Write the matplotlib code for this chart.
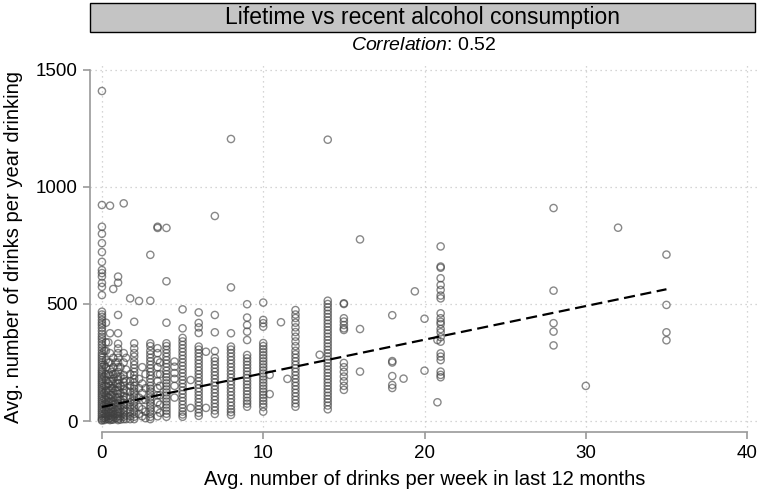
import numpy as np
import matplotlib.pyplot as plt
from matplotlib.patches import Rectangle

plt.rcParams['font.family'] = ['Liberation Sans', 'DejaVu Sans']
plt.rcParams['mathtext.fontset'] = 'custom'
plt.rcParams['mathtext.rm'] = 'Liberation Sans'
plt.rcParams['mathtext.it'] = 'Liberation Sans:italic'

y_w0 = [1410, 923, 830, 800, 760, 722, 680, 645, 632, 617, 590, 573, 538, 467, 455,
        445, 432, 420, 410, 398, 385, 372, 360, 350, 338, 326, 314, 302, 290, 280,
        270, 260, 250, 240, 230, 220, 212, 204, 196, 188, 180, 172, 164, 156, 148,
        140, 132, 124, 116, 108, 100, 92, 84, 76, 68, 60, 52, 44, 36, 28, 20, 12, 6, 2]
y_w015 = [300, 240, 190, 150, 120, 95, 70, 50, 30, 14, 4]
y_w025 = [420, 336, 300, 260, 230, 200, 175, 150, 130, 110, 90, 75, 60, 45, 30, 18, 8]
y_w04 = [336, 250, 200, 160, 130, 100, 80, 60, 40, 22, 8]
y_w05 = [920, 375, 290, 250, 220, 195, 170, 150, 130, 112, 96, 80, 64, 50, 36, 24, 12, 4]
y_w06 = [210, 170, 140, 110, 85, 60, 40, 20, 6]
y_w07 = [564, 270, 230, 200, 180, 160, 140, 120, 100, 85, 70, 55, 40, 28, 16, 6]
y_w085 = [250, 200, 160, 130, 100, 75, 50, 30, 12]
y_w1 = [617, 591, 453, 375, 330, 310, 290, 270, 250, 230, 210, 190, 175, 160, 145,
        130, 115, 100, 88, 76, 64, 52, 40, 30, 20, 10, 4]
y_w115 = [230, 190, 150, 120, 90, 65, 40, 20, 6]
y_w135 = [930, 290, 250, 197, 180, 165, 150, 135, 120, 105, 90, 78, 66, 54, 42, 30, 18, 8]
y_w15 = [270, 220, 170, 130, 100, 70, 45, 24, 8]
y_w175 = [524, 200, 170, 150, 125, 100, 80, 60, 40, 20, 8]
y_w2 = [424, 332, 310, 290, 275, 255, 240, 225, 210, 195, 180, 165, 150, 138, 126,
        114, 102, 90, 78, 66, 54, 42, 30, 18, 8]
y_w23 = [513, 180, 140, 100, 60, 30]
y_w25 = [230, 160, 120, 90, 50, 20]
y_w27 = [200, 140, 90, 40, 12]
y_w3 = [710, 514, 332, 320, 300, 285, 270, 255, 240, 225, 210, 195, 180, 165, 150,
        138, 126, 114, 102, 90, 78, 66, 54, 42, 30, 18, 8]
y_w345 = [830, 825, 311, 290, 260, 230, 200, 170, 140, 110, 80, 50, 20]
y_w36 = [250, 200, 150, 110, 70, 35]
y_w4 = [825, 597, 420, 332, 320, 305, 290, 275, 260, 245, 230, 215, 200, 187, 174,
        161, 148, 135, 122, 109, 96, 83, 70, 57, 44, 31, 18]
y_w45 = [254, 232, 205, 180, 150, 100]
y_w5 = [477, 396, 355, 340, 325, 310, 295, 280, 265, 250, 235, 220, 205, 190, 175,
        160, 145, 130, 115, 100, 85, 70, 55, 40, 28, 18]
y_w55 = [175, 56]
y_w6 = [464, 419, 400, 376, 318, 305, 290, 275, 260, 245, 230, 215, 200, 185, 170,
        155, 140, 125, 110, 95, 80, 65, 50, 35, 22]
y_w645 = [296, 56]
y_w7 = [876, 453, 379, 299, 269, 255, 240, 225, 210, 195, 180, 165, 150, 135, 120,
        105, 90, 75, 60, 45, 30]
y_w8 = [1205, 571, 375, 318, 305, 290, 275, 260, 245, 230, 215, 200, 185, 170, 155,
        140, 125, 110, 95, 80, 65, 50, 38, 26]
y_w9 = [499, 442, 410, 382, 346, 282, 268, 254, 240, 226, 212, 198, 184, 170, 156,
        142, 128, 114, 100, 86, 74, 61]
y_w10 = [506, 432, 418, 403, 333, 320, 307, 294, 281, 268, 255, 242, 229, 216, 203,
         190, 177, 164, 151, 138, 125, 112, 99, 86, 73, 60, 40]
y_w104 = [197, 115]
y_w111 = [422]
y_w115b = [180]
y_w12 = [474, 455, 440, 420, 400, 380, 360, 340, 320, 300, 285, 270, 255, 240, 225,
         210, 195, 180, 165, 150, 135, 120, 105, 90, 75, 61]
y_w135b = [283]
y_w14 = [1202, 514, 500, 486, 472, 458, 444, 430, 416, 402, 388, 374, 360, 346, 332,
         318, 304, 290, 276, 262, 248, 234, 220, 206, 192, 178, 164, 150, 136, 122,
         108, 94, 80, 66, 50]
y_w15b = [503, 500, 439, 425, 410, 396, 389, 248, 230, 210, 190, 170, 150, 133]
y_w16 = [776, 393, 211]
y_w18 = [452, 256, 250, 192, 154, 141]
y_w187 = [181]
y_w194 = [554]
y_w20 = [437, 215]
y_w208 = [346, 80]
y_w21 = [746, 660, 655, 610, 581, 560, 536, 524, 460, 439, 424, 414, 393, 379, 358,
         339, 289, 275, 260, 211, 197, 187]
y_w28 = [910, 557, 418, 382, 323]
y_w30 = [150]
y_w32 = [826]
y_w35 = [711, 496, 379, 345]

week_values = [0, 0.15, 0.25, 0.4, 0.5, 0.6, 0.7, 0.85, 1, 1.15, 1.35, 1.5, 1.75, 2,
               2.3, 2.5, 2.7, 3, 3.45, 3.6, 4, 4.5, 5, 5.5, 6, 6.45, 7, 8, 9, 10,
               10.4, 11.1, 11.5, 12, 13.5, 14, 15, 16, 18, 18.7, 19.4, 20, 20.8, 21,
               28, 30, 32, 35]
year_columns = [y_w0, y_w015, y_w025, y_w04, y_w05, y_w06, y_w07, y_w085, y_w1, y_w115,
                y_w135, y_w15, y_w175, y_w2, y_w23, y_w25, y_w27, y_w3, y_w345, y_w36,
                y_w4, y_w45, y_w5, y_w55, y_w6, y_w645, y_w7, y_w8, y_w9, y_w10,
                y_w104, y_w111, y_w115b, y_w12, y_w135b, y_w14, y_w15b, y_w16, y_w18,
                y_w187, y_w194, y_w20, y_w208, y_w21, y_w28, y_w30, y_w32, y_w35]

# fitted line end points
fit_x = [0, 35]
fit_y = [60, 563]

xs = np.concatenate([[w] * len(c) for w, c in zip(week_values, year_columns)])
ys = np.concatenate(year_columns)

fig = plt.figure(figsize=(7.6, 4.93), dpi=100)
ax = fig.add_axes([90 / 760, 61 / 493, 670 / 760, 370 / 493])

ax.scatter(xs, ys, s=27, facecolors='none', edgecolors=(0.25, 0.25, 0.25),
           linewidths=1.0, alpha=0.62, zorder=3)
ax.plot(fit_x, fit_y, color='black', ls=(0, (5, 2.5)), lw=1.6, zorder=4)

ax.set_xlim(-0.74, 40.8)
ax.set_ylim(-47, 1534)
ax.set_xticks([0, 10, 20, 30, 40])
ax.set_yticks([0, 500, 1000, 1500])
ax.grid(True, ls=(0, (1, 3)), color='#c8c8c8', lw=0.9)
ax.set_axisbelow(True)

for s in ['top', 'right']:
    ax.spines[s].set_visible(False)
ax.spines['left'].set_bounds(0, 1500)
ax.spines['bottom'].set_bounds(0, 40)
for s in ['left', 'bottom']:
    ax.spines[s].set_color('#9a9a9a')
    ax.spines[s].set_linewidth(1.2)
ax.tick_params(colors='#9a9a9a', labelcolor='black', length=5, width=1.2,
               labelsize=13.5, pad=4)

ax.set_xlabel("Avg. number of drinks per week in last 12 months", fontsize=14.5, labelpad=6)
ax.set_ylabel("Avg. number of drinks per year drinking", fontsize=14.5, labelpad=9)

fig.patches.append(Rectangle((90 / 760, 1 - 32 / 493), 665 / 760, 29 / 493,
                             transform=fig.transFigure, facecolor='#c4c4c4',
                             edgecolor='black', lw=1))
fig.text(422.5 / 760, 1 - 17.5 / 493, "Lifetime vs recent alcohol consumption",
         ha='center', va='center', fontsize=16.5)
fig.text(424 / 760, 1 - 45 / 493, r"$\mathit{Correlation}$: 0.52",
         ha='center', va='center', fontsize=14)

fig.savefig("out.png", dpi=100)
